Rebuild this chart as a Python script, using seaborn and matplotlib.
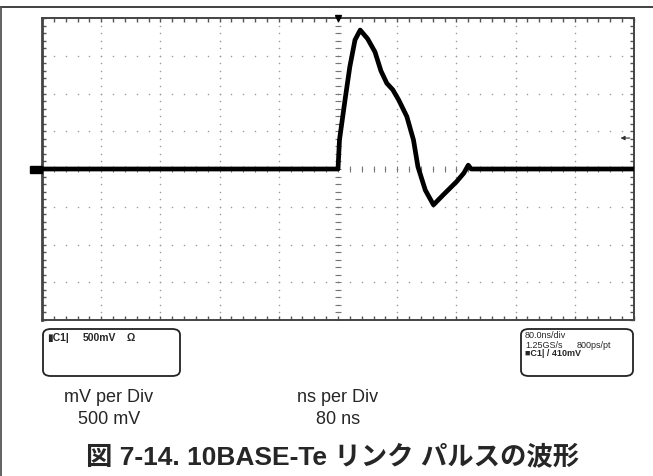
import numpy as np
import pandas as pd
import matplotlib
matplotlib.use('Agg')
import matplotlib.pyplot as plt
import seaborn as sns
from matplotlib.patches import FancyBboxPatch, Rectangle
from matplotlib.lines import Line2D

# trace (80 ns/div, 500 mV/div)
t_ns = [-400, 0, 2, 10, 16, 23, 30, 40, 50, 58, 66, 74, 82, 93, 102, 108,
        118, 129, 142, 160, 170, 176, 180, 400]
v_mv = [0, 0, 385, 950, 1355, 1710, 1840, 1725, 1550, 1300, 1135, 1050, 915,
        695, 385, 30, -280, -475, -345, -170, -55, 50, 0, 0]

ns_per_div = 80
mv_per_div = 500
trig_mv = 410
x_divs = 10
y_divs = 8

left_box_txt = ['\u25aeC1|', '500mV', '\u03a9']
right_box_txt = ['80.0ns/div', '1.25GS/s', '800ps/pt', '\u25a0C1| / 410mV']
scale_labels = ['mV per Div', '500 mV', 'ns per Div', '80 ns']
title = '図 7-14. 10BASE-Te リンク パルスの波形'

df = pd.DataFrame({'t': t_ns, 'v': v_mv})

sns.set_style('white')
plt.rcParams['font.family'] = ['Liberation Sans', 'DejaVu Sans']

W, H = 653, 476
fig = plt.figure(figsize=(W / 100, H / 100), dpi=100)

def fx(px):
    return px / W

def fy(py):
    return 1 - py / H

ax = fig.add_axes([fx(42), fy(320), fx(634) - fx(42), fy(18) - fy(320)])

xmax = ns_per_div * x_divs / 2
ymax = mv_per_div * y_divs / 2
major_x = np.arange(-xmax, xmax + 1, ns_per_div)
minor_x = np.arange(-xmax, xmax + 1, ns_per_div / 5)
major_y = np.arange(-ymax, ymax + 1, mv_per_div)
minor_y = np.arange(-ymax, ymax + 1, mv_per_div / 5)

# dotted graticule
gx, gy = np.meshgrid(major_x[1:-1], minor_y)
ax.scatter(gx.ravel(), gy.ravel(), s=1.2, color='#9a9a9a', linewidths=0, zorder=1)
gx, gy = np.meshgrid(minor_x, major_y[1:-1])
ax.scatter(gx.ravel(), gy.ravel(), s=1.2, color='#9a9a9a', linewidths=0, zorder=1)

# centre cross ticks
ax.plot(np.zeros_like(minor_y), minor_y, ls='none', marker='_', ms=5, mew=0.8,
        color='#777777', zorder=1)
ax.plot(minor_x, np.zeros_like(minor_x), ls='none', marker='|', ms=5, mew=0.8,
        color='#777777', zorder=1)

sns.lineplot(data=df, x='t', y='v', ax=ax, color='black', lw=3.4,
             estimator=None, sort=False, zorder=3,
             solid_joinstyle='round', solid_capstyle='round')

ax.set_xlim(-xmax, xmax)
ax.set_ylim(-ymax, ymax)
ax.set_xticks(minor_x)
ax.set_yticks(minor_y)
ax.tick_params(direction='in', length=3, width=1, color='#555555',
               top=True, right=True, bottom=True, left=True,
               labelbottom=False, labelleft=False)
ax.set_xlabel('')
ax.set_ylabel('')
for sp in ax.spines.values():
    sp.set_color('#444444')
    sp.set_linewidth(1.4)
ax.spines['left'].set_linewidth(2)

# trigger position marker, trigger level arrow, ground marker
ax.plot([0], [ymax], marker='v', ms=5, color='black', clip_on=False, zorder=4)
ax.annotate('', xy=(xmax - 22, trig_mv), xytext=(xmax - 2, trig_mv),
            arrowprops=dict(arrowstyle='-|>', color='#333333', lw=0.8,
                            mutation_scale=6))
fig.add_artist(Rectangle((fx(30), fy(173)), fx(12), fy(166) - fy(173),
                         transform=fig.transFigure, color='black'))

# page frame
fig.add_artist(Line2D([0, 1], [fy(6.5), fy(6.5)], color='#333333', lw=1.3))
fig.add_artist(Line2D([fx(1), fx(1)], [0, fy(6.5)], color='#555555', lw=1.3))

# info boxes
for x0, x1 in [(43, 180), (521, 633)]:
    fig.add_artist(FancyBboxPatch((fx(x0), fy(376)), fx(x1) - fx(x0), fy(329) - fy(376),
                                  boxstyle='round,pad=0,rounding_size=0.012',
                                  transform=fig.transFigure, fc='white',
                                  ec='#222222', lw=1.3))

fig.text(fx(47), fy(338), left_box_txt[0], fontsize=7.5, weight='bold',
         va='center', ha='left')
fig.text(fx(83), fy(338), left_box_txt[1], fontsize=7.5, weight='bold',
         va='center', ha='left')
fig.text(fx(127), fy(338), left_box_txt[2], fontsize=7.5, weight='bold',
         va='center', ha='left')

fig.text(fx(525), fy(336), right_box_txt[0], fontsize=6.5, va='center', ha='left')
fig.text(fx(525), fy(345), right_box_txt[1], fontsize=6.5, va='center', ha='left')
fig.text(fx(577), fy(345), right_box_txt[2], fontsize=6.5, va='center', ha='left')
fig.text(fx(525), fy(354), right_box_txt[3], fontsize=6.5, weight='bold',
         va='center', ha='left')

fig.text(fx(109), fy(398), scale_labels[0], fontsize=13, ha='center', va='center')
fig.text(fx(109), fy(419), scale_labels[1], fontsize=13, ha='center', va='center')
fig.text(fx(338), fy(398), scale_labels[2], fontsize=13, ha='center', va='center')
fig.text(fx(338), fy(419), scale_labels[3], fontsize=13, ha='center', va='center')

fig.text(fx(333), fy(457), title, fontsize=19, weight='bold', ha='center',
         va='center', family=['Liberation Sans', 'Noto Sans CJK JP'])

fig.savefig('out.png', dpi=100)
